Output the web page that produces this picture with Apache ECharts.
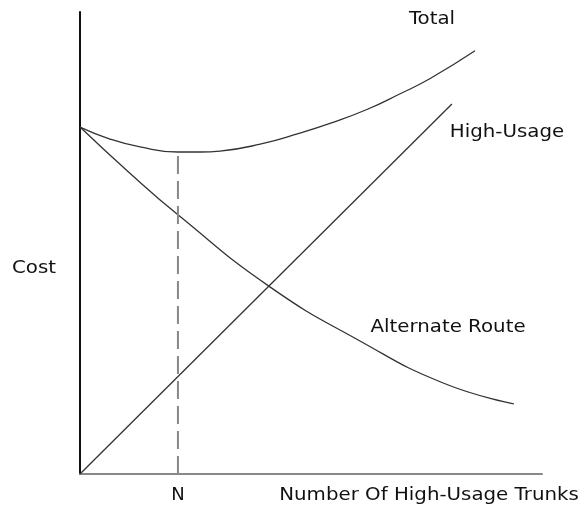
<!DOCTYPE html>
<html>
<head>
<meta charset="utf-8">
<script src="https://cdn.jsdelivr.net/npm/echarts@6/dist/echarts.min.js"></script>
<style>html,body{margin:0;padding:0;background:#fff}#c{width:584px;height:507px}</style>
</head>
<body>
<div id="c"></div>
<script>
const totalX = [0, 6.5, 13.0, 21.2, 26.0, 30.3, 39.0, 47.6, 54.1, 62.1, 69.3, 75.8, 85.5];
const totalY = [75.1, 72.5, 70.8, 69.7, 69.7, 69.9, 71.4, 73.8, 75.9, 78.9, 82.3, 85.6, 91.6];
const highUsageX = [0, 80.5];
const highUsageY = [0, 80.1];
const altRouteX = [0, 10.8, 21.2, 41.1, 60.6, 78.6, 93.9];
const altRouteY = [75.1, 65.1, 56.1, 40.5, 28.8, 19.7, 15.2];
const optimumN = 21.2;
const optimumCost = 69.7;
const seriesNames = ['Total', 'High-Usage', 'Alternate Route'];
const xAxisTitle = 'Number Of High-Usage Trunks';
const yAxisTitle = 'Cost';

const zip = (xs, ys) => xs.map((x, i) => [x, ys[i]]);
const font = 'DejaVu Sans';
const lineStyle = { color: '#333', width: 1.3 };
const label = (text, x, y) => ({
  type: 'text', x, y, scaleX: 1.1,
  style: { text, x: 0, y: 0, align: 'center', verticalAlign: 'middle', fill: '#111', font: '18px "DejaVu Sans"' }
});

const chart = echarts.init(document.getElementById('c'));
chart.setOption({
  animation: false,
  grid: { left: 80, right: 42, top: 12, bottom: 33 },
  xAxis: {
    type: 'value', min: 0, max: 100,
    axisLine: { show: true, lineStyle: { color: '#888', width: 2 } },
    axisTick: { show: false },
    splitLine: { show: false },
    axisLabel: {
      customValues: [optimumN],
      formatter: () => 'N',
      color: '#111', fontFamily: font, fontSize: 18, margin: 12
    }
  },
  yAxis: {
    type: 'value', min: 0, max: 100,
    axisLine: { show: true, lineStyle: { color: '#111', width: 2 } },
    axisTick: { show: false },
    splitLine: { show: false },
    axisLabel: { show: false }
  },
  graphic: [
    label(xAxisTitle, 429, 495),
    label(yAxisTitle, 34, 268),
    label(seriesNames[0], 432, 19),
    label(seriesNames[1], 507, 132),
    label(seriesNames[2], 448, 327)
  ],
  series: [
    { name: seriesNames[0], type: 'line', smooth: 0.5, symbol: 'none', lineStyle, data: zip(totalX, totalY) },
    { name: seriesNames[1], type: 'line', symbol: 'none', lineStyle, data: zip(highUsageX, highUsageY) },
    { name: seriesNames[2], type: 'line', smooth: 0.5, symbol: 'none', lineStyle, data: zip(altRouteX, altRouteY) },
    { name: 'N', type: 'line', symbol: 'none', lineStyle: { color: '#888', width: 2, type: [18, 7] }, data: [[optimumN, 0], [optimumN, optimumCost]] }
  ]
});
</script>
</body>
</html>
